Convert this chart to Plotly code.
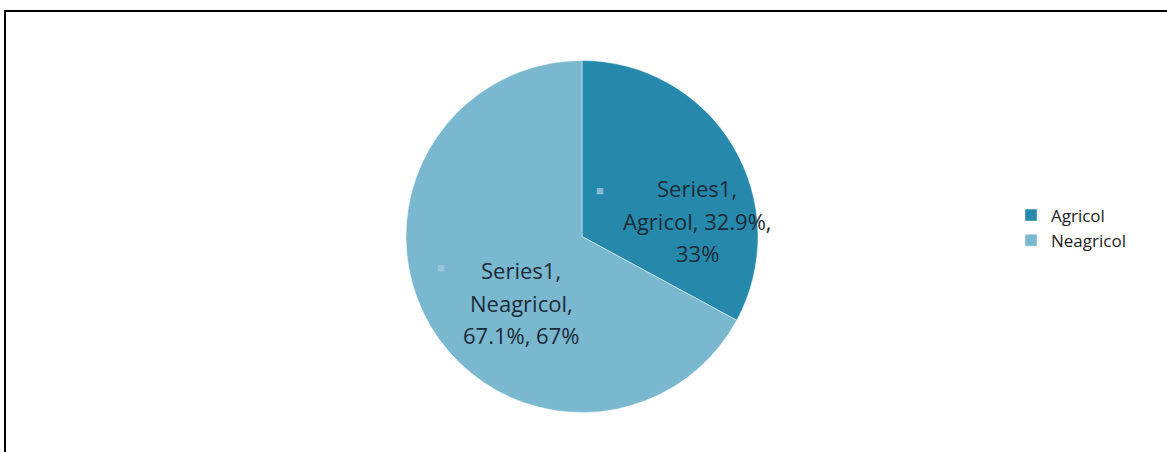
import plotly.graph_objects as go

series_name = "Series1"
categories = ["Agricol", "Neagricol"]
values = [32.9, 67.1]
colors = ["#2689ab", "#7ab8d0"]

W, H = 1167, 452
FONT = "Open Sans, Lato, sans-serif"

fig = go.Figure()
fig.add_trace(go.Pie(
    labels=categories,
    values=values,
    sort=False,
    direction="clockwise",
    rotation=0,
    marker=dict(colors=colors, line=dict(color="rgba(255,255,255,0.45)", width=1)),
    textinfo="none",
    hoverinfo="label+percent",
    domain=dict(x=[406 / W, 758 / W], y=[1 - 413 / H, 1 - 60 / H]),
    showlegend=True,
))

# label block layout (centre x, first line y) in pixels, and line spacing
label_anchor = [(697, 188), (521, 270)]
marker_pos = [(600, 190), (441, 267)]
LINE_GAP = 32.5
annotations = []
for cat, v, (cx, y0), (mx, my) in zip(categories, values, label_anchor, marker_pos):
    if cat == "Agricol":
        lines = [f"{series_name},", f"{cat}, {v:.1f}%,", f"{round(v):.0f}%"]
    else:
        lines = [f"{series_name},", f"{cat},", f"{v:.1f}%, {round(v):.0f}%"]
    for i, ln in enumerate(lines):
        annotations.append(dict(x=cx / W, y=1 - (y0 + i * LINE_GAP) / H,
                                xref="paper", yref="paper", text=ln, showarrow=False,
                                xanchor="center", yanchor="middle",
                                font=dict(family=FONT, size=22, color="#1c2b38")))
    annotations.append(dict(x=mx / W, y=1 - my / H, xref="paper", yref="paper",
                            text="■", showarrow=False, xanchor="center", yanchor="middle",
                            font=dict(size=13, color="rgba(165,205,222,0.75)")))

fig.update_layout(
    width=W, height=H,
    margin=dict(l=0, r=0, t=0, b=0),
    paper_bgcolor="white",
    plot_bgcolor="white",
    annotations=annotations,
    legend=dict(x=1011 / W, y=1 - 228 / H, xanchor="left", yanchor="middle",
                font=dict(family=FONT, size=17, color="#222222"),
                itemwidth=30),
    shapes=[dict(type="rect", xref="paper", yref="paper",
                 x0=5 / W, x1=1.01, y0=-0.05, y1=1 - 11 / H,
                 line=dict(color="black", width=2))],
)

fig.write_html("out.html")
